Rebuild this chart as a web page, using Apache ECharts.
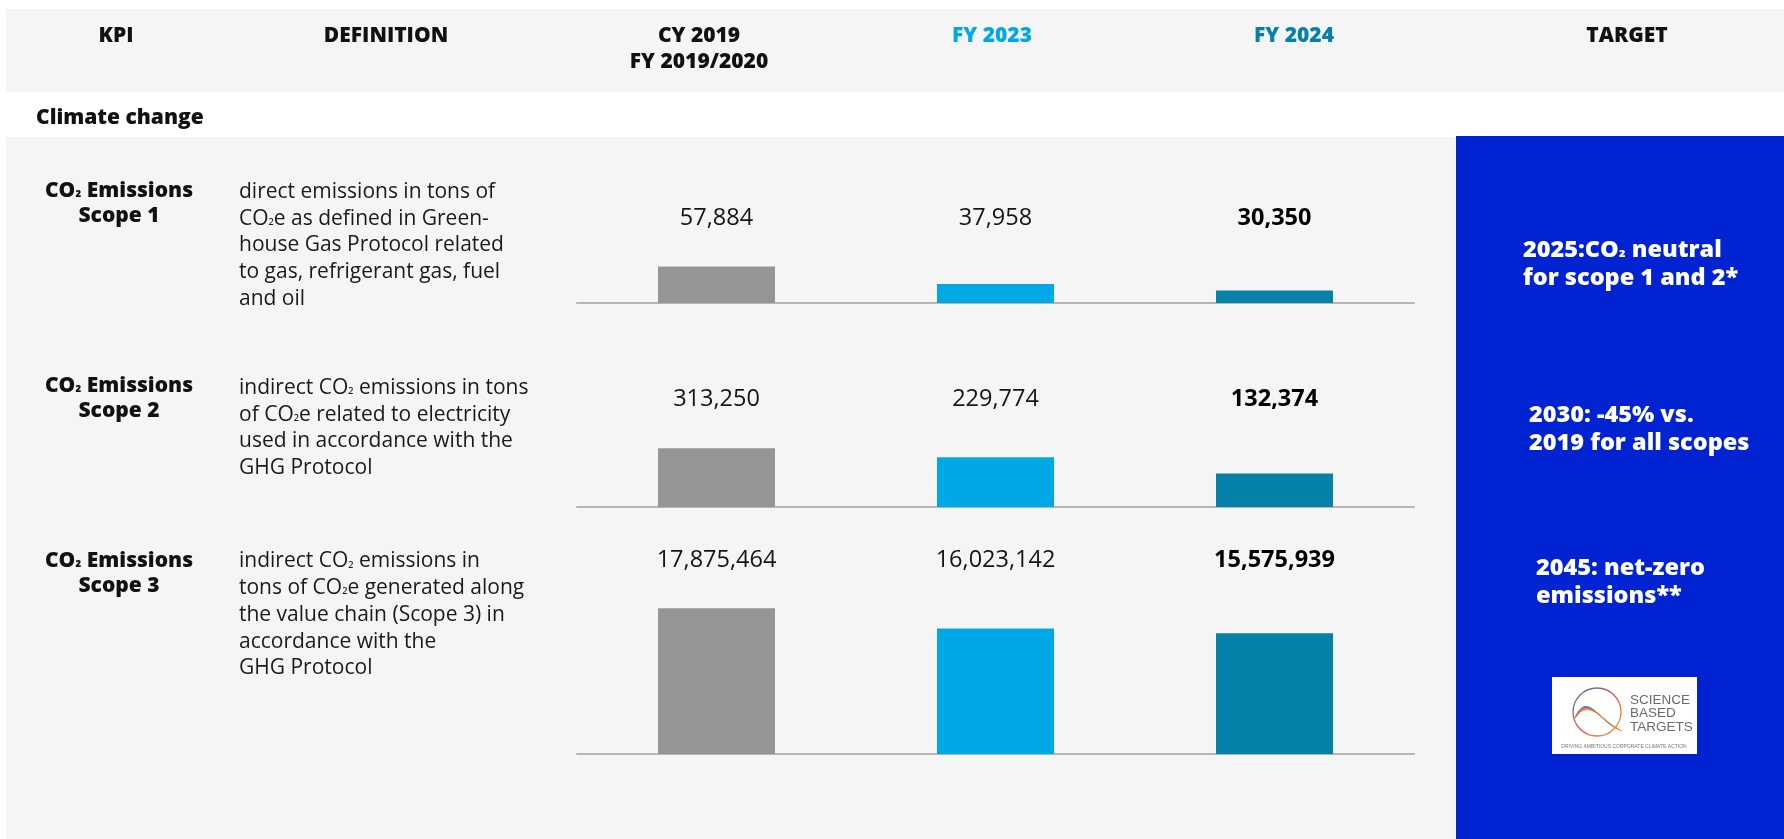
<!DOCTYPE html>
<html><head><meta charset="utf-8">
<script src="https://cdn.jsdelivr.net/npm/echarts@6/dist/echarts.min.js"></script>
<style>html,body{margin:0;padding:0;background:#fff}#c{width:1784px;height:839px}</style>
</head><body><div id="c"></div>
<script>
// ---------- data ----------
const categories = ['CY 2019 / FY 2019/2020', 'FY 2023', 'FY 2024'];
const scope1Values = [57884, 37958, 30350];
const scope2Values = [313250, 229774, 132374];
const scope3Values = [17875464, 16023142, 15575939];
const columnHeaders = ['KPI', 'DEFINITION', 'CY 2019\nFY 2019/2020', 'FY 2023', 'FY 2024', 'TARGET'];
const sectionTitle = 'Climate change';
const kpiLabels = ['CO\u2082 Emissions\nScope 1', 'CO\u2082 Emissions\nScope 2', 'CO\u2082 Emissions\nScope 3'];
const definitions = [
  'direct emissions in tons of\nCO\u2082e as defined in Green-\nhouse Gas Protocol related\nto gas, refrigerant gas, fuel\nand oil',
  'indirect CO\u2082 emissions in tons\nof CO\u2082e related to electricity\nused in accordance with the\nGHG Protocol',
  'indirect CO\u2082 emissions in\ntons of CO\u2082e generated along\nthe value chain (Scope 3) in\naccordance with the\nGHG Protocol'
];
const targets = ['2025:CO\u2082 neutral\nfor scope 1 and 2*', '2030: -45% vs.\n2019 for all scopes', '2045: net-zero\nemissions**'];

// ---------- styles ----------
const FONT = "'Open Sans', 'Noto Sans', sans-serif";
const barColors = ['#959595', '#00a9e6', '#0681a9'];
const headerColors = ['#111', '#111', '#111', '#00a9e6', '#0681a9', '#111'];
const fmt = v => v.toLocaleString('en-US');
const sub = t => t.replace(/\u2082/g, '{s|\u2082}');

const scopes = [scope1Values, scope2Values, scope3Values];
const gridTops = [250, 431, 592];
const gridBottoms = [303, 507, 754];
const yAxes = [
  {type: 'value', min: 16200, max: 76600},
  {type: 'log', min: 41880, max: 565000},
  {type: 'value', min: 4426000, max: 19384000}
];

const chart = echarts.init(document.getElementById('c'));

const grids = [], xAxes = [], yAxisArr = [], series = [];
scopes.forEach((vals, i) => {
  grids.push({left: 577, right: 370, top: gridTops[i], bottom: 839 - gridBottoms[i]});
  xAxes.push({
    type: 'category', gridIndex: i, position: 'bottom', data: categories,
    axisLine: {show: true, onZero: false, lineStyle: {color: '#b5b5b5', width: 2}},
    axisTick: {show: false}, axisLabel: {show: false}
  });
  xAxes.push({
    type: 'category', gridIndex: i, position: 'top', data: vals.map(fmt),
    axisLine: {show: false}, axisTick: {show: false},
    axisLabel: {
      show: true, interval: 0, margin: 32, verticalAlign: 'middle',
      formatter: (v, idx) => idx === 2 ? '{b|' + v + '}' : '{n|' + v + '}',
      rich: {
        n: {fontFamily: FONT, fontSize: 23.5, color: '#151515', fontWeight: 'normal'},
        b: {fontFamily: FONT, fontSize: 23.5, color: '#000', fontWeight: 'bold'}
      }
    }
  });
  yAxisArr.push(Object.assign({gridIndex: i, show: false, splitLine: {show: false}}, yAxes[i]));
  series.push({
    type: 'bar', xAxisIndex: i * 2, yAxisIndex: i, data: vals, barWidth: 117,
    silent: true, itemStyle: {color: p => barColors[p.dataIndex]}
  });
});

// ---------- layout graphics ----------
const g = [];
g.push({type: 'rect', z: -10, shape: {x: 6, y: 9, width: 1778, height: 83}, style: {fill: '#f5f5f5'}});
g.push({type: 'rect', z: -10, shape: {x: 6, y: 137, width: 1450, height: 702}, style: {fill: '#f5f5f5'}});
g.push({type: 'rect', z: -9, shape: {x: 1456, y: 136, width: 328, height: 703}, style: {fill: '#0223d2'}});

const headerX = [116, 386, 699, 992, 1294, 1627];
columnHeaders.forEach((t, i) => {
  g.push({type: 'text', x: headerX[i], y: 36 - 13, style: {
    text: t, fill: headerColors[i], fontFamily: FONT, fontSize: 21, fontWeight: 800,
    lineHeight: 26, textAlign: 'center', textVerticalAlign: 'top'}});
});
g.push({type: 'text', x: 36, y: 118 - 13, style: {
  text: sectionTitle, fill: '#111', fontFamily: FONT, fontSize: 21, fontWeight: 800,
  lineHeight: 26, textAlign: 'left', textVerticalAlign: 'top'}});

const kpiY = [191, 386, 561];
kpiLabels.forEach((t, i) => {
  g.push({type: 'text', x: 119, y: kpiY[i] - 12.5, style: {
    text: sub(t), fill: '#111', fontFamily: FONT, fontSize: 21, fontWeight: 800,
    lineHeight: 25, textAlign: 'center', textVerticalAlign: 'top',
    rich: {s: {fontFamily: FONT, fontSize: 15, fontWeight: 800, fill: '#111', lineHeight: 25}}}});
});
const defY = [192, 388, 561.5];
definitions.forEach((t, i) => {
  g.push({type: 'text', x: 239, y: defY[i] - 13.35, style: {
    text: sub(t), fill: '#1a1a1a', fontFamily: FONT, fontSize: 21, fontWeight: 'normal',
    lineHeight: 26.7, textAlign: 'left', textVerticalAlign: 'top',
    rich: {s: {fontFamily: FONT, fontSize: 15, fill: '#1a1a1a', lineHeight: 26.7}}}});
});
const tgtX = [1523, 1529, 1536];
const tgtY = [250, 415.5, 568.5];
targets.forEach((t, i) => {
  g.push({type: 'text', x: tgtX[i], y: tgtY[i] - 14, style: {
    text: sub(t), fill: '#fff', fontFamily: FONT, fontSize: 23.5, fontWeight: 800,
    lineHeight: 28, textAlign: 'left', textVerticalAlign: 'top',
    rich: {s: {fontFamily: FONT, fontSize: 17, fontWeight: 800, fill: '#fff', lineHeight: 28}}}});
});

// ---------- SBTi logo ----------
g.push({type: 'rect', shape: {x: 1552, y: 677, width: 145, height: 77}, style: {fill: '#fff'}});
g.push({type: 'circle', shape: {cx: 1597, cy: 712, r: 24}, style: {fill: 'none', lineWidth: 1.3,
  stroke: {type: 'linear', x: 0, y: 0, x2: 1, y2: 1, colorStops: [
    {offset: 0, color: '#2f7fb8'}, {offset: 0.5, color: '#d9534f'}, {offset: 1, color: '#f2b134'}]}}});
const waveColors = ['#2f7fb8', '#6a6fb0', '#c9505a', '#e0604a', '#ef9a3a'];
waveColors.forEach((c, k) => {
  g.push({type: 'bezierCurve', shape: {x1: 1575, y1: 718, cpx1: 1586 + k, cpy1: 692 + k,
    cpx2: 1596 + k * 2, cpy2: 716 + k * 2, x2: 1614 + k * 2, y2: 727 + k}, style: {stroke: c, lineWidth: 1, fill: 'none'}});
});
['SCIENCE', 'BASED', 'TARGETS'].forEach((t, k) => {
  g.push({type: 'text', x: 1630, y: 700 + k * 13.5, style: {text: t, fill: '#6b6b6b',
    fontFamily: "'Liberation Sans', Arial, sans-serif", fontSize: 13.5, textAlign: 'left', textVerticalAlign: 'middle'}});
});
g.push({type: 'text', x: 1624, y: 747, style: {text: 'DRIVING AMBITIOUS CORPORATE CLIMATE ACTION', fill: '#777',
  fontFamily: "'Liberation Sans', Arial, sans-serif", fontSize: 5, textAlign: 'center', textVerticalAlign: 'middle'}});

chart.setOption({
  animation: false,
  backgroundColor: '#ffffff',
  grid: grids, xAxis: xAxes, yAxis: yAxisArr, series: series,
  graphic: {elements: g}
});
</script></body></html>
